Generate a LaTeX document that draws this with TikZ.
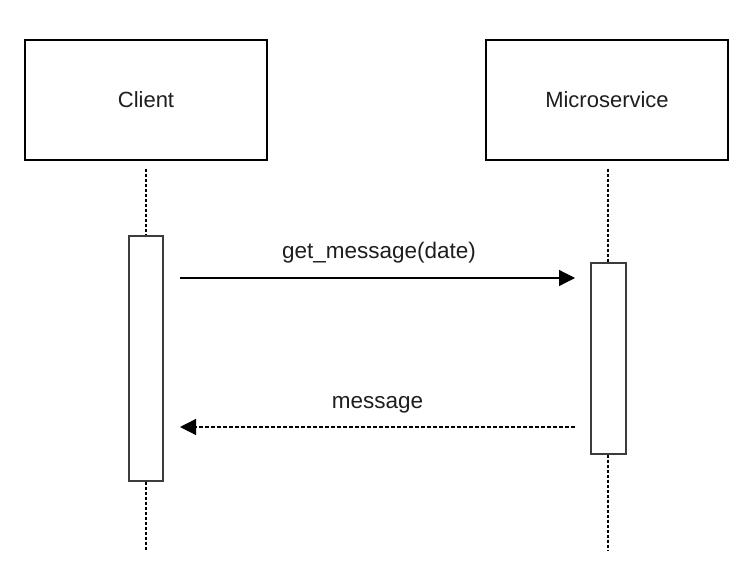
\documentclass[tikz,border=0pt]{standalone}
\usepackage{fontspec}
\setmainfont{Liberation Sans}
\usetikzlibrary{arrows.meta}
\definecolor{txt}{RGB}{30,30,30}
\definecolor{actline}{RGB}{60,60,60}
\tikzset{
  lifebox/.style={draw=black, line width=1.3bp, minimum width=242bp, minimum height=120bp, inner sep=0pt, font=\fontsize{22bp}{26bp}\selectfont, text=txt},
  actbox/.style={draw=actline, fill=white, line width=1.3bp, minimum width=34bp, inner sep=0pt},
  lifeline/.style={draw=black, line width=1.5bp, dash pattern=on 3bp off 2bp},
  callmsg/.style={draw=black, line width=1.2bp, -{Triangle[length=16bp,width=16bp]}},
  retmsg/.style={draw=black, line width=1.2bp, dash pattern=on 4bp off 2bp, -{Triangle[length=16bp,width=16bp]}},
  msglabel/.style={font=\fontsize{22.5bp}{26bp}\selectfont, text=txt, anchor=base, inner sep=0pt}
}
\begin{document}
\begin{tikzpicture}[x=1bp,y=-1bp]
\useasboundingbox[fill=white] (0,0) rectangle (756,581);
\node[lifebox] (client) at (146,100) {Client};
\node[lifebox] (micro) at (607,100) {Microservice};
\node[actbox, minimum height=245bp] (cact) at (146,358.5) {};
\node[actbox, minimum width=35bp, minimum height=191bp] (mact) at (608.5,358.5) {};
\coordinate (cend) at (146,550);
\coordinate (mend) at (608,550);
\draw[lifeline] (client.south) ++(0,8) -- (cact.north);
\draw[lifeline] (cact.south) -- (cend);
\draw[lifeline] (micro.south) ++(1,8) -- (mact.north -| mend);
\draw[lifeline] (mact.south -| mend) -- (mend);
\coordinate (c1) at (180,278);
\coordinate (m1) at (575,278);
\coordinate (m2) at (575,427);
\coordinate (c2) at (180,427);
\draw[callmsg] (c1) -- (m1);
\draw[retmsg] (m2) -- (c2);
\node[msglabel] (l1) at (379,258) {get\_message(date)};
\node[msglabel] (l2) at (377.5,408) {message};
\end{tikzpicture}
\end{document}
